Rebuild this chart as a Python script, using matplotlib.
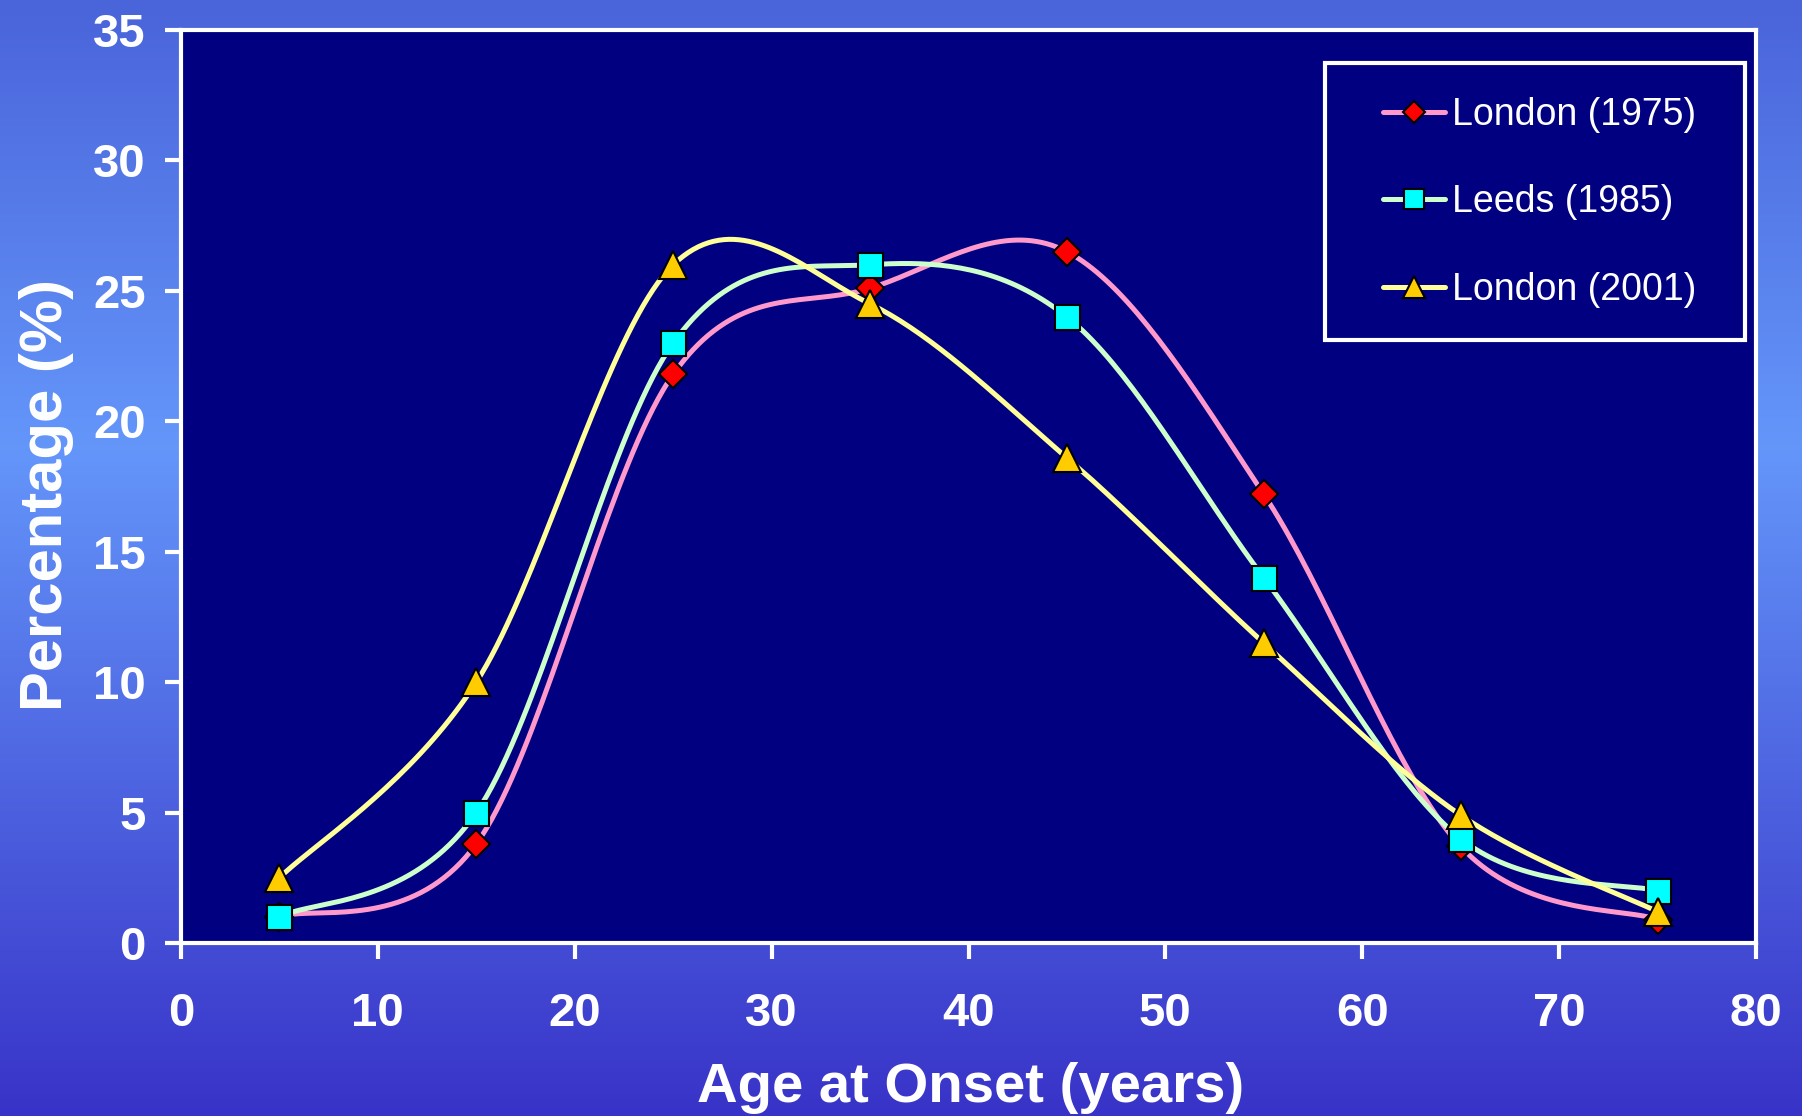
import numpy as np
import matplotlib
matplotlib.use("Agg")
import matplotlib.pyplot as plt
from matplotlib.lines import Line2D
from matplotlib.patches import Rectangle
from matplotlib.colors import LinearSegmentedColormap

# ---------------- data ----------------
age = [5, 15, 25, 35, 45, 55, 65, 75]
london_1975 = [1.0, 3.8, 21.8, 25.1, 26.5, 17.2, 3.7, 0.9]
leeds_1985 = [1.0, 5.0, 23.0, 26.0, 24.0, 14.0, 4.0, 2.0]
london_2001 = [2.5, 10.0, 26.0, 24.5, 18.6, 11.5, 4.9, 1.2]
labels = ["London (1975)", "Leeds (1985)", "London (2001)"]
x_ticks = [0, 10, 20, 30, 40, 50, 60, 70, 80]
y_ticks = [0, 5, 10, 15, 20, 25, 30, 35]

FONT = "Liberation Sans"


def smooth(xs, ys, n=40):
    """Excel-style smoothed line (Catmull-Rom Bezier) through the points."""
    P = np.column_stack([xs, ys]).astype(float)
    out = [P[0]]
    m = len(P)
    t = np.linspace(0, 1, n)[1:, None]
    for i in range(m - 1):
        p0 = P[i - 1] if i > 0 else P[i]
        p1, p2 = P[i], P[i + 1]
        p3 = P[i + 2] if i + 2 < m else P[i + 1]
        c1 = p1 + (p2 - p0) / 6.0
        c2 = p2 - (p3 - p1) / 6.0
        seg = ((1 - t) ** 3) * p1 + 3 * ((1 - t) ** 2) * t * c1 + 3 * (1 - t) * t ** 2 * c2 + t ** 3 * p2
        out.extend(seg)
    out = np.array(out)
    return out[:, 0], out[:, 1]


W, H = 1802, 1116
fig = plt.figure(figsize=(W / 100, H / 100), dpi=100)

# background gradient
bg = fig.add_axes([0, 0, 1, 1], zorder=-10)
cmap = LinearSegmentedColormap.from_list(
    "bg", [(0.0, "#4A64DA"), (0.40, "#6496FA"), (1.0, "#3833C8")])
grad = np.linspace(0, 1, 256)[:, None]
bg.imshow(grad, aspect="auto", cmap=cmap, extent=[0, 1, 0, 1], origin="upper")
bg.set_axis_off()

ax = fig.add_axes([181 / W, 1 - 943 / H, (1756 - 181) / W, (943 - 30) / H])
ax.set_facecolor("#000080")
ax.set_xlim(0, 80)
ax.set_ylim(0, 35)

series = [
    (london_1975, "#FF99CC", "D", "#FF0000", 14),
    (leeds_1985, "#CCFFCC", "s", "#00FFFF", 18),
    (london_2001, "#FFFF99", "^", "#FFCC00", 20),
]

handles = []
for i, (vals, lc, mk, mc, ms) in enumerate(series):
    sx, sy = smooth(age, vals)
    ax.plot(sx, sy, color=lc, lw=3.6, zorder=3 + 2 * i, solid_capstyle="round")
    ax.plot(age, vals, linestyle="none", marker=mk, markersize=ms,
            markerfacecolor=mc, markeredgecolor="black", markeredgewidth=1.5,
            zorder=4 + 2 * i, clip_on=False)
    handles.append(Line2D([], [], color=lc, lw=3.6, marker=mk, markersize=ms * 0.8,
                          markerfacecolor=mc, markeredgecolor="black",
                          markeredgewidth=1.5, solid_capstyle="round"))

# spines and ticks
for side in ["top", "right", "bottom", "left"]:
    ax.spines[side].set_color("white")
    ax.spines[side].set_linewidth(3)
ax.set_xticks(x_ticks)
ax.set_yticks(y_ticks)
ax.tick_params(axis="both", which="major", direction="out", length=11.5, width=3,
               color="white", labelcolor="white", labelsize=34)
ax.tick_params(axis="y", pad=14)
ax.tick_params(axis="x", pad=24)
ax.tick_params(top=False, right=False)
for lab in ax.get_xticklabels() + ax.get_yticklabels():
    lab.set_fontfamily(FONT)
    lab.set_fontweight("bold")

# axis labels
fig.text(971 / W, 1 - 1102 / H, "Age at Onset (years)", ha="center", va="baseline",
         fontsize=40.5, fontweight="bold", color="white", family=FONT)
fig.text(62 / W, 1 - 495 / H, "Percentage (%)", ha="center", va="baseline",
         rotation=90, rotation_mode="anchor",
         fontsize=43, fontweight="bold", color="white", family=FONT)

# legend box
ax.add_patch(Rectangle(((1325 - 181) / 1575, (943 - 340) / 913),
                       (1745 - 1325) / 1575, (340 - 63) / 913,
                       transform=ax.transAxes, facecolor="#000080",
                       edgecolor="white", lw=3, zorder=20))
leg = ax.legend(handles, labels, loc="upper left",
                bbox_to_anchor=((1383 - 181) / 1575, (943 - 97) / 913),
                frameon=False, borderpad=0, borderaxespad=0,
                handlelength=1.65, handletextpad=0.2, labelspacing=1.37,
                prop={"family": FONT, "size": 27})
leg.set_zorder(21)
for t in leg.get_texts():
    t.set_color("white")

fig.savefig("out.png", dpi=100)
